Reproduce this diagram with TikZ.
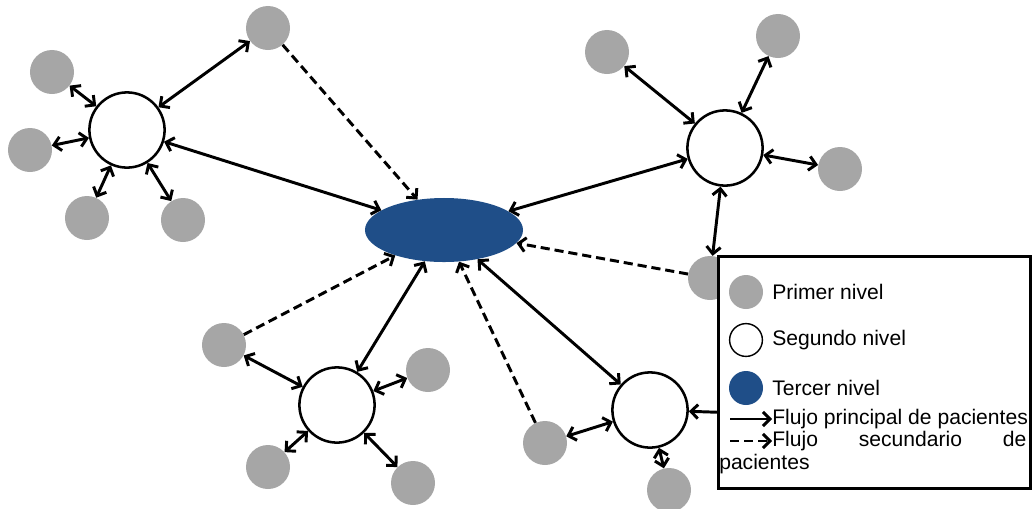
\documentclass[tikz,border=0pt]{standalone}
\usepackage{fontspec}
\setmainfont{Liberation Sans}
\usetikzlibrary{shapes.geometric,arrows.meta}
\definecolor{nivelgris}{RGB}{166,166,166}
\definecolor{nivelazul}{RGB}{31,78,136}

\begin{document}
\begin{tikzpicture}[x=0.025cm,y=-0.025cm,
  >={Straight Barb[length=5pt,width=10pt]},
  primer/.style={circle,fill=nivelgris,minimum size=1.1cm,inner sep=0pt},
  segundo/.style={circle,draw,line width=1.8pt,fill=white,minimum size=1.88cm,inner sep=0pt},
  tercer/.style={ellipse,fill=nivelazul,minimum width=3.95cm,minimum height=1.6cm,inner sep=0pt},
  flujo/.style={line width=2.1pt,every edge/.append style={line width=2.1pt}},
  sec/.style={dash pattern=on 6.5pt off 3.5pt,every edge/.append style={dash pattern=on 6.5pt off 3.5pt}},
  rotulo/.style={anchor=west,inner sep=0pt,font=\fontsize{15}{18}\selectfont}]
\useasboundingbox (0,0) rectangle (1032,508);

% tercer nivel
\node[tercer] (t) at (444,230) {};

% segundo nivel
\node[segundo] (s1) at (127,130) {};
\node[segundo] (s2) at (725,148) {};
\node[segundo] (s3) at (337,405) {};
\node[segundo] (s4) at (650,410) {};

% primer nivel
\node[primer] (a1) at (52,72) {};
\node[primer] (a2) at (30,150) {};
\node[primer] (a3) at (87,218) {};
\node[primer] (a4) at (183,220) {};
\node[primer] (a5) at (268,28) {};
\node[primer] (b1) at (607,52) {};
\node[primer] (b2) at (778,36) {};
\node[primer] (b3) at (840,169) {};
\node[primer] (b4) at (710,278) {};
\node[primer] (c1) at (224,345) {};
\node[primer] (c2) at (428,370) {};
\node[primer] (c3) at (268,467) {};
\node[primer] (c4) at (413,483) {};
\node[primer] (d1) at (545,443) {};
\node[primer] (d2) at (669,490) {};
\coordinate (h) at (770,414);

% flujo principal
\draw [flujo,<->] (s1) edge (a1);
\draw [flujo,<->] (s1) edge (a2);
\draw [flujo,<->] (s1) edge (a3);
\draw [flujo,<->] (s1) edge (a4);
\draw [flujo,<->] (s1) edge (a5);
\draw [flujo,<->] (s1) edge (t);
\draw [flujo,<->] (s2) edge (b1);
\draw [flujo,<->] (s2) edge (b2);
\draw [flujo,<->] (s2) edge (b3);
\draw [flujo,<->] (s2) edge (b4);
\draw [flujo,<->] (s2) edge (t);
\draw [flujo,<->] (s3) edge (c1);
\draw [flujo,<->] (s3) edge (c2);
\draw [flujo,<->] (s3) edge (c3);
\draw [flujo,<->] (s3) edge (c4);
\draw [flujo,<->] (s3) edge (t);
\draw [flujo,<->] (s4) edge (d1);
\draw [flujo,<->] (s4) edge (d2);
\draw [flujo,<->] (s4) edge (t);
\draw [flujo,->] (h) edge (s4);

% flujo secundario
\draw [flujo,sec,->] (a5) edge (t);
\draw [flujo,sec,->] (b4) edge (t);
\draw [flujo,sec,->] (c1) edge (t);
\draw [flujo,sec,->] (d1) edge (t);

% leyenda
\node[draw,line width=2pt,fill=white,anchor=north west,minimum width=7.8cm,minimum height=5.8cm] (key) at (717,255) {};
\node[primer,minimum size=0.85cm] (k1) at (746,292) {};
\node[segundo,line width=1pt,minimum size=0.82cm] (k2) at (746,340) {};
\node[tercer,minimum width=0.85cm,minimum height=0.85cm] (k3) at (746,388) {};
\node[rotulo] (l1) at (772,292) {Primer nivel};
\node[rotulo] (l2) at (772,340) {Segundo nivel};
\node[rotulo] (l3) at (772,388) {Tercer nivel};
\node[rotulo] (l4) at (772,419) {Flujo principal de pacientes};
\node[rotulo,text width=6.35cm] (l5) at (772,441) {Flujo\hfill secundario\hfill de};
\node[rotulo] (l6) at (719,464) {pacientes};
\coordinate (k4) at (730,419);
\coordinate (k5) at (730,441);
\draw [flujo,->] (k4) -- (l4.west);
\draw [flujo,sec,->] (k5) -- (l5.west);
\end{tikzpicture}
\end{document}
